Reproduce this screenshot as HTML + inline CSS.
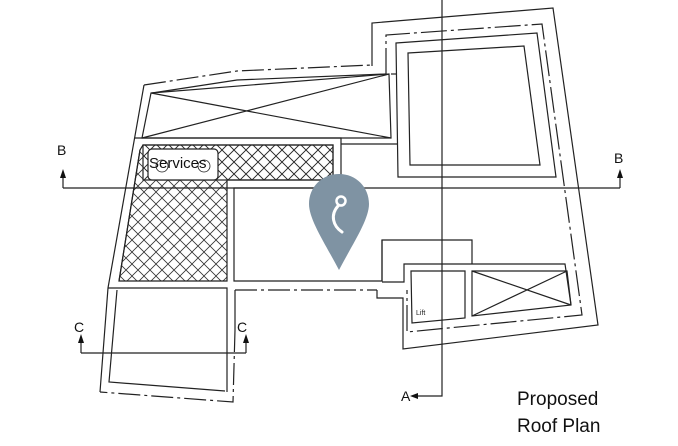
<!DOCTYPE html>
<html><head><meta charset="utf-8"><style>html,body{margin:0;padding:0;background:#fff}svg{display:block}</style></head><body>
<svg width="678" height="446" viewBox="0 0 678 446" xmlns="http://www.w3.org/2000/svg" font-family="Liberation Sans, sans-serif">
<defs>
<pattern id="h" width="12" height="12" patternUnits="userSpaceOnUse">
<path d="M0 0L12 12M12 0L0 12" stroke="#333" stroke-width="0.8"/>
</pattern>
</defs>
<g fill="none" stroke="#222" stroke-width="1.2">
<!-- outer boundary -->
<path d="M372 66V23L553 8L598 325L403 349V298H377V290"/>
<path d="M144 85L237 71L372 65" stroke-dasharray="22 4 3 4"/>
<path d="M235 290H377" stroke-dasharray="22 4 3 4"/>
<path d="M235 290V330"/>
<path d="M235 330L233 402L100 392" stroke-dasharray="22 4 3 4"/>
<path d="M100 392L108 288L144 85"/>
<!-- second line -->
<path d="M386 74V35L542 24L582 315L407 332V290" stroke-dasharray="26 4 3 4"/>
<path d="M152 93L237 80L386 74"/>
<path d="M140 150L119 281"/>
<path d="M108 288H227V392"/>
<path d="M117 290L109 382L225 391"/>
<!-- top X box -->
<path d="M151 93L389 74L391 138H142Z"/>
<path d="M151 93L391 138M389 74L142 138"/>
<!-- right upper room -->
<path d="M396 43L537 33L556 177H398Z"/>
<path d="M408 53L524 46L540 165H410Z"/>
<path d="M341 144H398"/>
<path d="M391 74H396"/>
<!-- services block -->
<path d="M135 138H341V188"/>
<rect x="143" y="145" width="190" height="35" fill="url(#h)"/>
<path d="M143 145H333V180H227V281H119L140 150Z" fill="url(#h)"/>
<rect x="148" y="149" width="70" height="31" rx="4" fill="#fff"/>
<circle cx="162" cy="166" r="6" stroke-width="0.8"/>
<circle cx="204" cy="166" r="6" stroke-width="0.8"/>
<path d="M382 240V281H234V188H341"/>
<!-- lift area -->
<path d="M382 281V240H472V264"/>
<path d="M382 282H404V264H565L571 305"/>
<path d="M411 271H465V318L412 323Z"/>
<path d="M472 271H567L571 305L472 316Z"/>
<path d="M472 271L571 305M567 271L472 316"/>
<!-- section lines -->
<path d="M442 0V396H418"/>
<path d="M63 188H620"/>
<path d="M63 188V175M620 188V175"/>
<path d="M81 353H246"/>
<path d="M81 353V340M246 353V340"/>
</g>
<g fill="#111">
<path d="M418 393L410 396L418 399Z"/>
<path d="M60 178L63 169L66 178Z"/>
<path d="M617 178L620 169L623 178Z"/>
<path d="M78 343L81 334L84 343Z"/>
<path d="M243 343L246 334L249 343Z"/>
</g>
<g font-size="14" fill="#111">
<text x="57" y="155">B</text>
<text x="614" y="163">B</text>
<text x="74" y="332">C</text>
<text x="237" y="332">C</text>
<text x="401" y="401">A</text>
</g>
<text x="149" y="168" font-size="15" fill="#111">Services</text>
<text x="416" y="315" font-size="7" fill="#222">Lift</text>
<text x="517" y="405" font-size="19" fill="#111">Proposed</text>
<text x="517" y="432" font-size="19" fill="#111">Roof Plan</text>
<!-- pin -->
<path d="M339 174C356 174 369 187 369 204C369 220 352 245 339 270C326 245 309 220 309 204C309 187 322 174 339 174Z" fill="#7f93a3"/>
<circle cx="341" cy="201" r="4.5" fill="none" stroke="#fff" stroke-width="2.5"/>
<path d="M338 206C330 215 333 226 342 232" fill="none" stroke="#fff" stroke-width="3" stroke-linecap="round"/>
</svg>
</body></html>
